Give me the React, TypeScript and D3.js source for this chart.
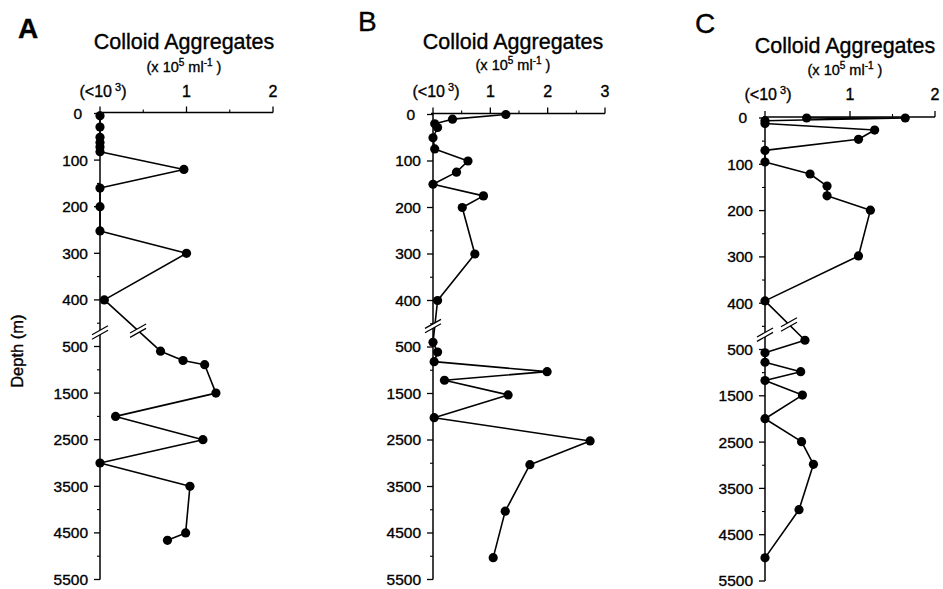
import * as d3 from 'd3';

// Panel A (depth m, colloid aggregates x10^5 ml-1)
const depthA = [5, 29, 51, 62, 72, 82, 120, 160, 200, 252, 300, 400, 600, 800, 890, 1500, 2000, 2500, 3000, 3500, 4500, 4660];
const valueA = [0, 0, 0, 0, 0, 0, 0.97, 0, 0, 0, 1.0, 0.05, 0.7, 0.96, 1.21, 1.34, 0.18, 1.19, 0, 1.04, 0.99, 0.78];

// Panel B
const depthB = [0, 10, 20, 28, 50, 74, 100, 124, 150, 175, 200, 300, 400, 490, 610, 815, 1030, 1215, 1530, 2020, 2520, 3030, 4030, 5030];
const valueB = [1.27, 0.34, 0.03, 0.08, 0, 0.03, 0.61, 0.41, 0, 0.88, 0.51, 0.73, 0.08, 0, 0.08, 0.02, 1.99, 0.2, 1.31, 0.02, 2.74, 1.69, 1.26, 1.05];

// Panel C
const depthC = [0, 0, 6, 12, 26, 46, 70, 95, 121, 147, 168, 199, 298, 395, 480, 570, 775, 980, 1170, 1485, 1995, 2490, 2980, 3960, 5000];
const valueC = [0.49, 1.65, 0, 0, 1.29, 1.1, 0, 0, 0.53, 0.73, 0.73, 1.24, 1.1, 0, 0.47, 0, 0, 0.42, 0, 0.44, 0, 0.43, 0.57, 0.4, 0];

const depthTicks = [0, 100, 200, 300, 400, 500, 1500, 2500, 3500, 4500, 5500];
const depthMinorTicks = [50, 150, 250, 350, 450, 1000, 2000, 3000, 4000, 5000];
const xTicksA = [0, 1, 2];
const xTicksB = [0, 1, 2, 3];
const xTicksC = [0, 1, 2];

const FONT = '"Liberation Sans", Arial, Helvetica, sans-serif';

type PanelProps = {
  letter: string;
  letterBold: boolean;
  letterX: number;
  letterY: number;
  titleX: number;
  titleY: number;
  subY: number;
  tickLabelY: number;
  depths: number[];
  values: number[];
  xTicks: number[];
  x0: number;
  x1: number;
  y0: number;
  unit: number;
  axisBreak: number;
  lineBreakIdx: number | null;
  showDepthLabel: boolean;
};

function BreakMark({ cx, cy }: { cx: number; cy: number }) {
  const w = 8, h = 4.5, g = 2.2;
  return (
    <g>
      <polygon
        points={`${cx - w},${cy + h - g} ${cx + w},${cy - h - g} ${cx + w},${cy - h + g} ${cx - w},${cy + h + g}`}
        fill="#fff"
      />
      <line x1={cx - w} y1={cy + h - g} x2={cx + w} y2={cy - h - g} stroke="#000" strokeWidth={1.2} />
      <line x1={cx - w} y1={cy + h + g} x2={cx + w} y2={cy - h + g} stroke="#000" strokeWidth={1.2} />
    </g>
  );
}

function Panel(p: PanelProps) {
  const xMax = p.xTicks[p.xTicks.length - 1];
  const x = d3.scaleLinear().domain([0, xMax]).range([p.x0, p.x1]);
  const y = d3
    .scaleLinear()
    .domain([0, 500, 5500])
    .range([p.y0, p.y0 + 5 * p.unit, p.y0 + 10 * p.unit]);

  const pts: [number, number][] = p.depths.map((d, i) => [x(p.values[i]), y(d)]);
  const path = d3.line()(pts) || '';
  const halfTicks = d3.range(0.5, xMax, 1);

  let lb: [number, number] | null = null;
  if (p.lineBreakIdx !== null) {
    const a = pts[p.lineBreakIdx], b = pts[p.lineBreakIdx + 1];
    lb = [a[0] + (b[0] - a[0]) * 0.6, a[1] + (b[1] - a[1]) * 0.6];
  }

  const axisX = x(0);
  const axisY = y(0) - 1;

  return (
    <g fontFamily={FONT} fill="#000">
      <g stroke="#000" strokeWidth={0.35}>
        <text x={p.letterX} y={p.letterY} fontSize={28} fontWeight={p.letterBold ? 'bold' : 'normal'}>
          {p.letter}
        </text>
        <text x={p.titleX} y={p.titleY} fontSize={21.5} textAnchor="middle">
          Colloid Aggregates
        </text>
        <text x={p.titleX} y={p.subY} fontSize={14.5} textAnchor="middle">
          (x 10<tspan fontSize={10} dy={-6}>5</tspan>
          <tspan dy={6}> ml</tspan>
          <tspan fontSize={10} dy={-6}>-1</tspan>
          <tspan dy={6}> )</tspan>
        </text>
        {p.xTicks.map((t) =>
          t === 0 ? (
            <text key={'xl' + t} x={x(t) + 3} y={p.tickLabelY} fontSize={16} textAnchor="middle">
              (&lt;10<tspan fontSize={11} dy={-6}> 3</tspan>
              <tspan dy={6}>)</tspan>
            </text>
          ) : (
            <text key={'xl' + t} x={x(t)} y={p.tickLabelY} fontSize={16} textAnchor="middle">
              {t}
            </text>
          )
        )}
        {depthTicks.map((d) => (
          <text
            key={'yl' + d}
            x={axisX - (d === 0 ? 18 : 12)}
            y={y(d)}
            dy="0.35em"
            fontSize={15.5}
            textAnchor="end"
          >
            {d}
          </text>
        ))}
        {p.showDepthLabel && (
          <text
            transform={`translate(${axisX - 83},${y(600)}) rotate(-90)`}
            fontSize={16.5}
            textAnchor="middle"
            dy="0.35em"
          >
            Depth (m)
          </text>
        )}
      </g>

      {/* x axis on top */}
      <line x1={axisX - 2} x2={x(xMax)} y1={axisY} y2={axisY} stroke="#000" strokeWidth={1.4} />
      {p.xTicks.map((t) => (
        <line key={'xt' + t} x1={x(t)} x2={x(t)} y1={axisY - 6} y2={axisY} stroke="#000" strokeWidth={1.3} />
      ))}
      {halfTicks.map((t) => (
        <line key={'xh' + t} x1={x(t)} x2={x(t)} y1={axisY - 3} y2={axisY} stroke="#000" strokeWidth={1.1} />
      ))}

      {/* depth axis */}
      <line x1={axisX} x2={axisX} y1={axisY} y2={y(5500)} stroke="#000" strokeWidth={1.5} />
      {depthTicks.map((d) => (
        <line key={'yt' + d} x1={axisX - 6} x2={axisX} y1={y(d)} y2={y(d)} stroke="#000" strokeWidth={1.3} />
      ))}
      {depthMinorTicks.map((d) => (
        <line key={'ym' + d} x1={axisX - 3} x2={axisX} y1={y(d)} y2={y(d)} stroke="#000" strokeWidth={1.1} />
      ))}

      {/* profile */}
      <path d={path} fill="none" stroke="#000" strokeWidth={1.6} strokeLinejoin="round" />
      {pts.map((pt, i) => (
        <circle key={'c' + i} cx={pt[0]} cy={pt[1]} r={4.6} fill="#000" />
      ))}

      <BreakMark cx={axisX} cy={y(p.axisBreak)} />
      {lb && <BreakMark cx={lb[0]} cy={lb[1]} />}
    </g>
  );
}

export default function App() {
  return (
    <svg
      width={943}
      height={589}
      viewBox="0 0 943 589"
      style={{ position: 'absolute', left: 0, top: 0, background: '#fff' }}
    >
      <rect width={943} height={589} fill="#fff" />
      <Panel
        letter="A"
        letterBold={true}
        letterX={18}
        letterY={38}
        titleX={184}
        titleY={49}
        subY={72}
        tickLabelY={97}
        depths={depthA}
        values={valueA}
        xTicks={xTicksA}
        x0={100}
        x1={273}
        y0={113.5}
        unit={46.6}
        axisBreak={470}
        lineBreakIdx={11}
        showDepthLabel={true}
      />
      <Panel
        letter="B"
        letterBold={false}
        letterX={358}
        letterY={31}
        titleX={513}
        titleY={49}
        subY={70}
        tickLabelY={97}
        depths={depthB}
        values={valueB}
        xTicks={xTicksB}
        x0={433}
        x1={605}
        y0={114.5}
        unit={46.5}
        axisBreak={455}
        lineBreakIdx={null}
        showDepthLabel={false}
      />
      <Panel
        letter="C"
        letterBold={false}
        letterX={695}
        letterY={33}
        titleX={845}
        titleY={53}
        subY={75}
        tickLabelY={100}
        depths={depthC}
        values={valueC}
        xTicks={xTicksC}
        x0={765}
        x1={935}
        y0={118}
        unit={46.3}
        axisBreak={468}
        lineBreakIdx={13}
        showDepthLabel={false}
      />
    </svg>
  );
}
